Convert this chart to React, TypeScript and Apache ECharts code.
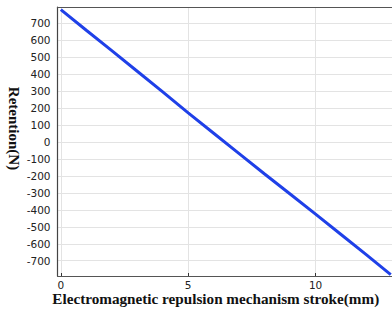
import React, { useEffect, useRef } from "react";
import * as echarts from "echarts";

const strokeMm = [0, 1, 2, 3, 4, 5, 6, 7, 8, 9, 10, 11, 12, 12.95];
const retentionN = [782, 660, 540, 418, 296, 172, 52, -68, -188, -306, -425, -545, -665, -782];
const xTicks = [0, 5, 10];
const yTicks = [-700, -600, -500, -400, -300, -200, -100, 0, 100, 200, 300, 400, 500, 600, 700];

const xTitle = "Electromagnetic repulsion mechanism stroke(mm)";
const yTitle = "Retention(N)";

export default function App() {
  const ref = useRef<HTMLDivElement>(null);
  useEffect(() => {
    if (!ref.current) return;
    const chart = echarts.init(ref.current, undefined, { renderer: "svg" });
    const data = strokeMm.map((x, i) => [x, retentionN[i]]);
    chart.setOption({
      animation: false,
      backgroundColor: "#ffffff",
      grid: { left: 57.5, right: 0, top: 7, bottom: 33, containLabel: false, outerBoundsMode: "none" },
      xAxis: [
        {
          type: "value",
          min: -0.13,
          max: 13,
          name: xTitle,
          nameLocation: "middle",
          nameGap: 15,
          nameMoveOverlap: false,
          nameTextStyle: {
            fontFamily: "Liberation Serif",
            fontWeight: "bold",
            fontSize: 15.2,
            color: "#111",
            verticalAlign: "top",
            padding: [0, 18, 0, 0],
          },
          axisLine: { show: true, onZero: false, lineStyle: { color: "#555", width: 1.2 } },
          axisTick: { show: true, inside: true, length: 3, lineStyle: { color: "#333" }, customValues: xTicks },
          axisLabel: {
            customValues: xTicks,
            fontFamily: "DejaVu Sans",
            fontSize: 10.5,
            lineHeight: 11,
            color: "#222",
            margin: 3,
          },
          splitLine: { show: true, lineStyle: { color: "#e3e3e3", width: 1 } },
        },
        {
          type: "value",
          position: "top",
          min: -0.13,
          max: 13,
          axisLine: { show: true, onZero: false, lineStyle: { color: "#555", width: 1.2 } },
          axisTick: { show: false },
          axisLabel: { show: false },
          splitLine: { show: false },
        },
      ],
      yAxis: {
        type: "value",
        min: -790,
        max: 797,
        name: yTitle,
        nameLocation: "middle",
        nameRotate: -90,
        nameGap: 36,
        nameMoveOverlap: false,
        nameTextStyle: {
          fontFamily: "Liberation Serif",
          fontWeight: "bold",
          fontSize: 15,
          color: "#111",
          padding: [0, 26, 0, 0],
        },
        axisLine: { show: true, onZero: false, lineStyle: { color: "#444", width: 1.2 } },
        axisTick: { show: false, customValues: yTicks },
        axisLabel: {
          customValues: yTicks,
          fontFamily: "DejaVu Sans",
          fontSize: 10.5,
          color: "#222",
          margin: 7,
        },
        splitLine: { show: true, lineStyle: { color: "#e3e3e3", width: 1 } },
      },
      series: [
        {
          type: "line",
          data,
          showSymbol: false,
          lineStyle: { color: "#1f40e8", width: 3 },
        },
      ],
    });
    return () => chart.dispose();
  }, []);
  return (
    <div
      ref={ref}
      style={{ position: "fixed", left: 0, top: 0, width: 392, height: 309 }}
    />
  );
}
